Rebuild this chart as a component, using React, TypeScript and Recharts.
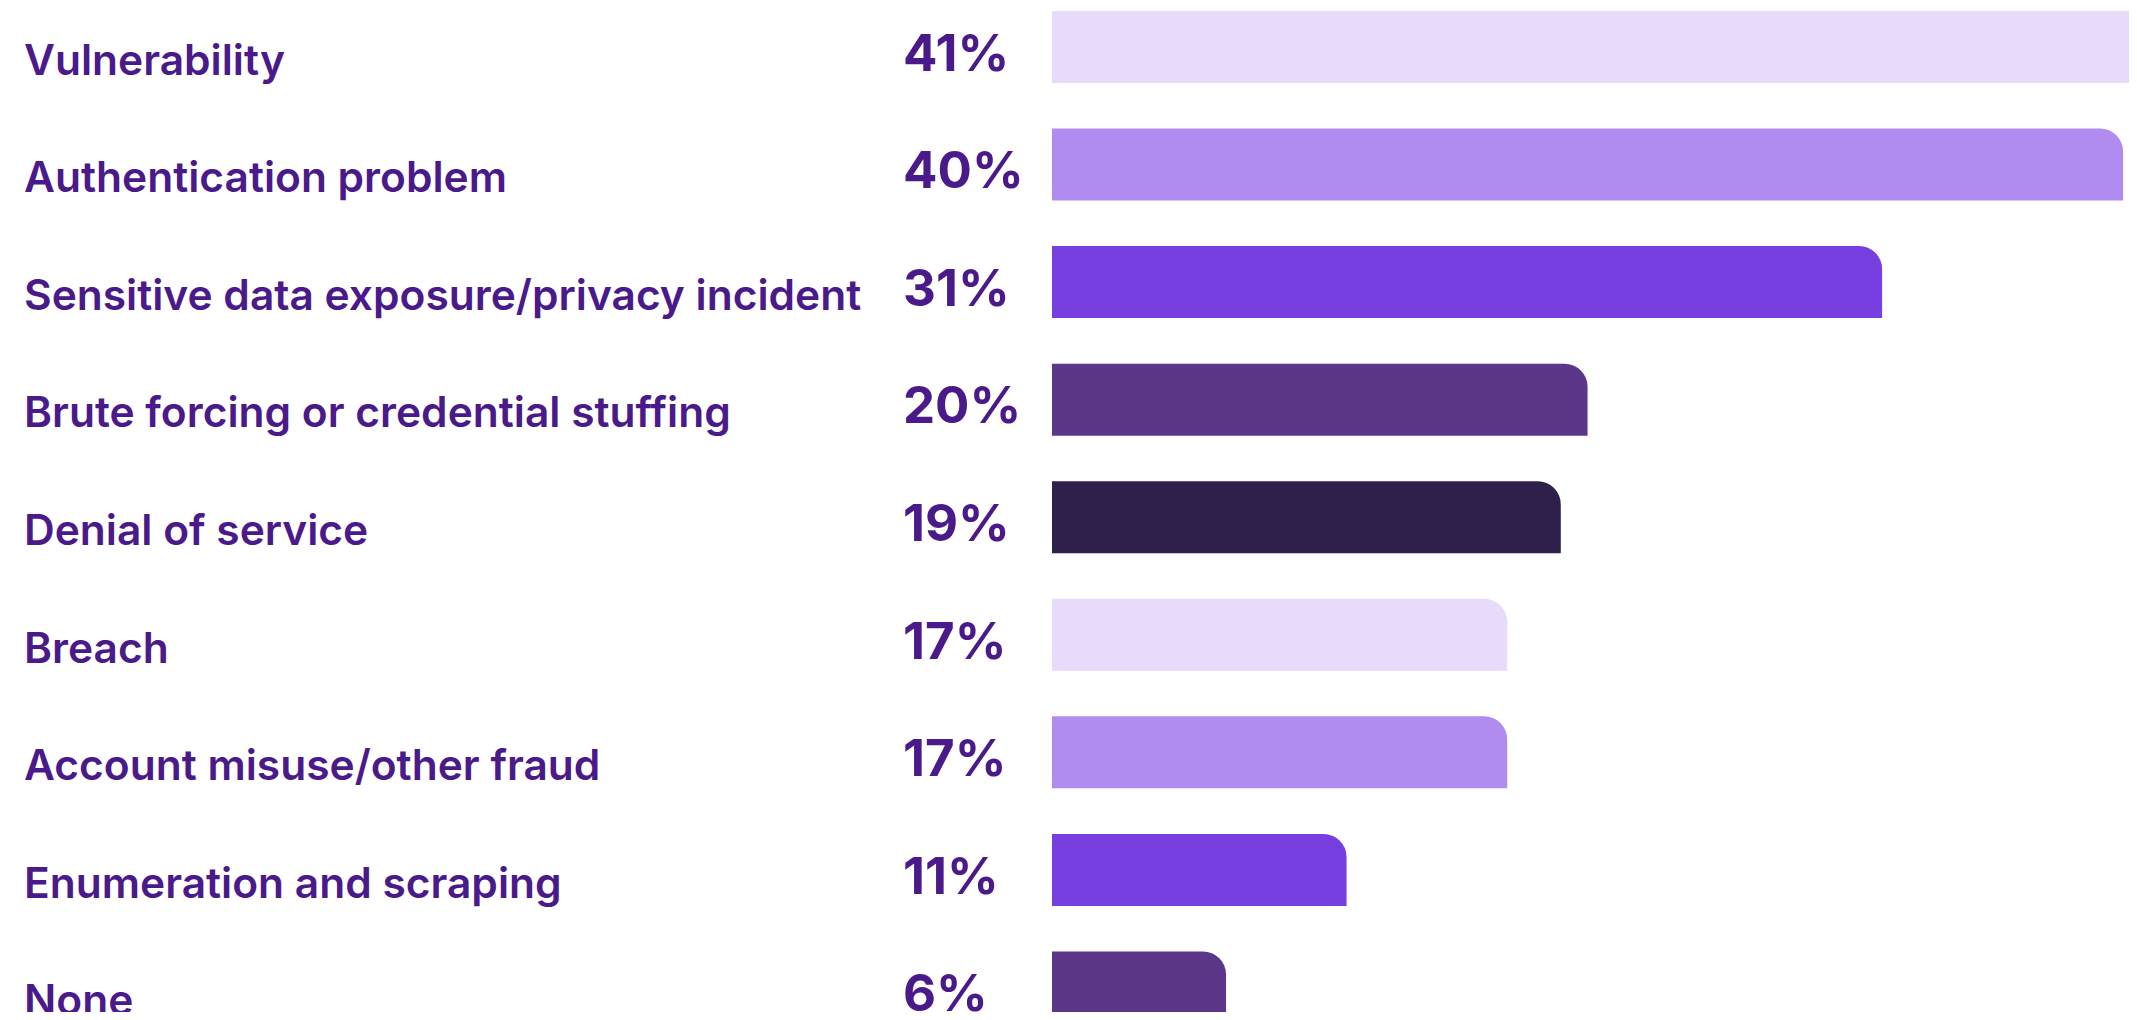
import React from "react";
import { BarChart, Bar, XAxis, YAxis, Cell } from "recharts";

const categories = [
  "Vulnerability",
  "Authentication problem",
  "Sensitive data exposure/privacy incident",
  "Brute forcing or credential stuffing",
  "Denial of service",
  "Breach",
  "Account misuse/other fraud",
  "Enumeration and scraping",
  "None",
];

const values = [41, 40, 31, 20, 19, 17, 17, 11, 6.5];

const valueLabels = ["41%", "40%", "31%", "20%", "19%", "17%", "17%", "11%", "6%"];

const palette = ["#E8DAFA", "#B08CF0", "#783FE0", "#5C3789", "#2E1F4B"];

const TEXT = "#4B1A8A";
const FONT = "Inter, 'Noto Sans', sans-serif";

const data = categories.map((name, i) => ({ name, value: values[i], label: valueLabels[i] }));

const Tick = (props: any) => {
  const { y, index } = props;
  return (
    <g>
      <text
        x={24}
        y={y + 28}
        fill={TEXT}
        fontFamily={FONT}
        fontWeight={600}
        fontSize={42.5}
        textAnchor="start"
      >
        {categories[index]}
      </text>
      <text
        x={903}
        y={y + 24}
        fill={TEXT}
        fontFamily={FONT}
        fontWeight={700}
        fontSize={51}
        textAnchor="start"
      >
        {valueLabels[index]}
      </text>
    </g>
  );
};

export default function App() {
  return (
    <div
      style={{
        margin: -8,
        width: 2137,
        height: 1020,
        overflow: "hidden",
        position: "relative",
        background: "#ffffff",
      }}
    >
      <div style={{ position: "absolute", left: 0, top: -11.75 }}>
        <BarChart
          width={2257}
          height={1058}
          data={data}
          layout="vertical"
          margin={{ top: 0, right: 0, bottom: 0, left: 0 }}
        >
          <XAxis type="number" domain={[0, 45]} hide allowDataOverflow />
          <YAxis
            type="category"
            dataKey="name"
            width={1052}
            axisLine={false}
            tickLine={false}
            tick={<Tick />}
            interval={0}
          />
          <Bar dataKey="value" barSize={72} radius={[0, 23, 0, 0]} isAnimationActive={false}>
            {data.map((d, i) => (
              <Cell key={d.name} fill={palette[i % palette.length]} />
            ))}
          </Bar>
        </BarChart>
      </div>
    </div>
  );
}
